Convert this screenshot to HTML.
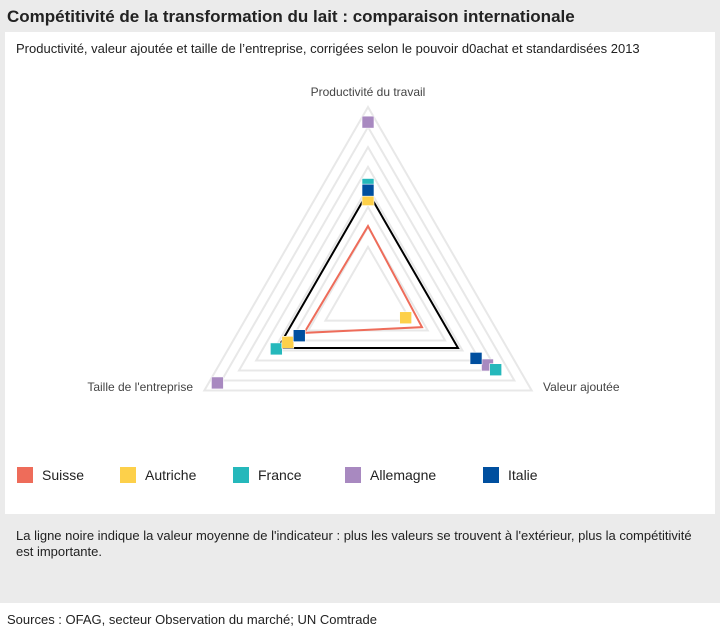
<!DOCTYPE html>
<html><head><meta charset="utf-8"><style>
body{margin:0;width:720px;height:634px;overflow:hidden;background:#fff;font-family:"Liberation Sans Narrow","Liberation Sans",sans-serif;}
</style></head><body>
<svg id="chart" width="720" height="634" xmlns="http://www.w3.org/2000/svg">
<rect x="0" y="0" width="720" height="603" fill="#ebebeb"/>
<rect x="5" y="32" width="710" height="482" fill="#fff"/>
<text x="7" y="22" font-size="17" font-weight="bold" fill="#222">Compétitivité de la transformation du lait : comparaison internationale</text>
<text x="16" y="53" font-size="13" fill="#222">Productivité, valeur ajoutée et taille de l’entreprise, corrigées selon le pouvoir d0achat et standardisées 2013</text>
<text x="16" y="540" font-size="13" fill="#222">La ligne noire indique la valeur moyenne de l'indicateur : plus les valeurs se trouvent à l'extérieur, plus la compétitivité</text>
<text x="16" y="556" font-size="13" fill="#222">est importante.</text>
<text x="7" y="624" font-size="13" fill="#222">Sources : OFAG, secteur Observation du marché; UN Comtrade</text>
<g id="grid"></g><g id="lines"></g><g id="marks"></g><g id="legend"></g>
</svg>
<script>
const axes = ["Productivité du travail", "Valeur ajoutée", "Taille de l'entreprise"];
const ringLevels = [0.26, 0.365, 0.471, 0.577, 0.683, 0.788, 0.894, 1];
const suisse = [0.37, 0.33, 0.39];
const moyenne = [0.55, 0.55, 0.55];
const autriche = [0.51, 0.23, 0.49];
const france = [0.59, 0.78, 0.56];
const allemagne = [0.92, 0.73, 0.92];
const italie = [0.56, 0.66, 0.42];
const countries = ["Suisse", "Autriche", "France", "Allemagne", "Italie"];
const colors = ["#ee6c5a", "#fdd04a", "#25b8bb", "#a889c0", "#004f9f"];

const NS = "http://www.w3.org/2000/svg";
const cx = 368, cy = 296, R = 189;
const angles = [-90, 30, 150].map(a => a * Math.PI / 180);
function pt(i, v){ return [cx + R * v * Math.cos(angles[i]), cy + R * v * Math.sin(angles[i])]; }
function mk(tag, attrs, parent){ const e = document.createElementNS(NS, tag); for (const k in attrs) e.setAttribute(k, attrs[k]); parent.appendChild(e); return e; }
const grid = document.getElementById('grid'), lines = document.getElementById('lines'), marks = document.getElementById('marks'), legend = document.getElementById('legend');

ringLevels.forEach(r => {
  const p = [0,1,2].map(i => pt(i, r).join(',')).join(' ');
  const el = mk('polygon', {points: p, fill: 'none', stroke: '#e8e8e8', 'stroke-width': 2}, grid);
  
  
});
const lblPos = [[368, 96, 'middle'], [543, 391, 'start'], [193, 391, 'end']];
axes.forEach((a, i) => {
  const t = mk('text', {x: lblPos[i][0], y: lblPos[i][1], 'text-anchor': lblPos[i][2], 'font-size': 12, fill: '#444'}, grid);
  t.textContent = a;
  
  
});
function poly(vals, color, name){
  const p = vals.map((v, i) => pt(i, v).join(',')).join(' ');
  const el = mk('polygon', {points: p, fill: 'none', stroke: color, 'stroke-width': 2}, lines);
  
  
}
poly(moyenne, '#000', 'mean-line');
poly(suisse, colors[0], 'suisse-line');
const series = [null, autriche, france, allemagne, italie];
[3, 2, 1, 4].forEach(s => {
  series[s].forEach((v, i) => {
    const [x, y] = pt(i, v);
    const el = mk('rect', {x: x - 6, y: y - 6, width: 12, height: 12, fill: colors[s], stroke: '#fff', 'stroke-width': 0.6}, marks);
    
    
  });
});
const legX = [17, 120, 233, 345, 483];
countries.forEach((c, i) => {
  const r = mk('rect', {x: legX[i], y: 467, width: 16, height: 16, fill: colors[i]}, legend);
  
  
  const t = mk('text', {x: legX[i] + 25, y: 480, 'font-size': 14, fill: '#222'}, legend);
  t.textContent = c;
  
  
});
</script>
</body></html>
